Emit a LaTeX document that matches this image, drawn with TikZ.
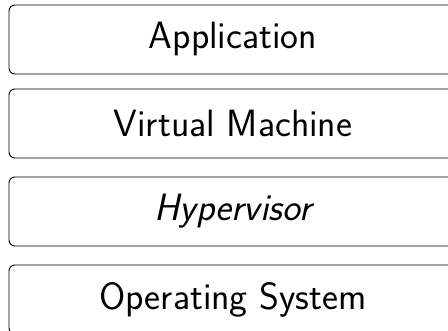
\documentclass[tikz,border=0pt]{standalone}
\begin{document}
\begin{tikzpicture}[x=1pt,y=-1pt,
  layer/.style={draw=black,line width=0.9pt,rounded corners=6pt,minimum width=448pt,minimum height=69pt,
    inner sep=0pt,font=\sffamily\fontsize{38}{40}\selectfont}]
\useasboundingbox (0,0) rectangle (448,331);
\clip (0,0) rectangle (448,331);
\node[layer] (app) at (233,39.5) {Application};
\node[layer] (vm) at (233,123.5) {Virtual Machine};
\node[layer] (hv) at (233,211.5) {\itshape Hypervisor};
\node[layer] (os) at (233,299.5) {Operating System};
\end{tikzpicture}
\end{document}
